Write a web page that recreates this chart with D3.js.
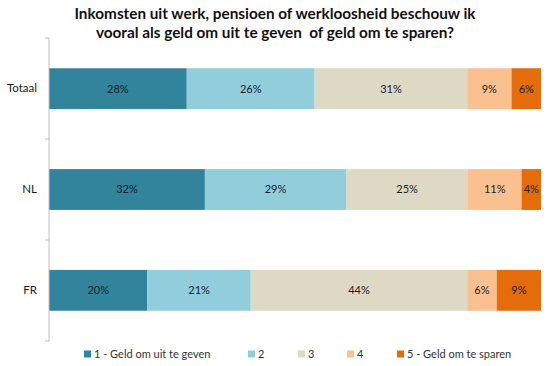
<!DOCTYPE html>
<html>
<head>
<meta charset="utf-8">
<script src="https://cdn.jsdelivr.net/npm/d3@7"></script>
<style>
  body { margin: 0; background: #fff; }
  svg { font-family: Lato, "Open Sans", sans-serif; }
</style>
</head>
<body>
<svg id="chart" width="550" height="366"></svg>
<script>
// categories and answer scale
groups = ["Totaal", "NL", "FR"];
answers = ["1 - Geld om uit te geven", "2", "3", "4", "5 - Geld om te sparen"];
colors = ["#31849B", "#92CDDC", "#DDD9C4", "#FAC090", "#E46C0A"];

// percentages per group, in answer order
totaal = [28, 26, 31, 9, 6];
nl = [32, 29, 25, 11, 4];
fr = [20, 21, 44, 6, 9];

titleLines = [
    "Inkomsten uit werk, pensioen of werkloosheid beschouw ik",
    "vooral als geld om uit te geven  of geld om te sparen?"
];

rows = [totaal, nl, fr].map((vals, i) => {
    let row = {group: groups[i]};
    answers.forEach((a, j) => row[a] = vals[j]);
    return row;
});

svg = d3.select("#chart");
const plotLeft = 49;
const plotRight = 541;
const plotTop = 38;
const plotBottom = 341;

x = d3.scaleLinear().domain([0, 1]).range([plotLeft, plotRight]);
y = d3.scaleBand().domain(groups).range([plotTop, plotBottom]).paddingInner(0.595).paddingOuter(0.3);

// stack with expand offset: each row fills the full width
series = d3.stack().keys(answers).offset(d3.stackOffsetExpand)(rows);

svg.selectAll("text.title")
    .data(titleLines)
    .enter().append("text")
    .attr("class", "title")
    .attr("x", 275)
    .attr("y", (d, i) => 19 + i * 19)
    .attr("text-anchor", "middle")
    .attr("font-size", 15.3)
    .attr("font-weight", "bold")
    .attr("fill", "#111")
    .style("white-space", "pre")
    .text(d => d);

layers = svg.selectAll("g.layer")
    .data(series)
    .enter().append("g")
    .attr("class", "layer")
    .attr("fill", (d, i) => colors[i]);

layers.selectAll("rect")
    .data(d => d)
    .enter().append("rect")
    .attr("x", d => x(d[0]))
    .attr("width", d => x(d[1]) - x(d[0]))
    .attr("y", d => y(d.data.group))
    .attr("height", y.bandwidth());

layers.each(function(s) {
    d3.select(this).selectAll("text")
        .data(s)
        .enter().append("text")
        .attr("x", d => (x(d[0]) + x(d[1])) / 2)
        .attr("y", d => y(d.data.group) + y.bandwidth() / 2)
        .attr("dy", "0.35em")
        .attr("text-anchor", "middle")
        .attr("font-size", 11)
        .attr("fill", "#16222a")
        .text(d => d.data[s.key] + "%");
});

// vertical category axis
yAxis = d3.axisLeft(y).tickSize(0).tickPadding(12);
gy = svg.append("g").attr("transform", `translate(${plotLeft},0)`).call(yAxis);
gy.select(".domain").attr("stroke", "#bfbfbf").attr("d", `M0,${plotTop}V${plotBottom}`);
gy.selectAll(".tick text").attr("font-size", 11.5).attr("fill", "#1a1a1a").attr("font-family", "Lato, sans-serif");

// small separator ticks between categories
seps = d3.range(groups.length + 1).map(i => plotTop + i * (plotBottom - plotTop) / groups.length);
svg.selectAll("line.sep")
    .data(seps)
    .enter().append("line")
    .attr("class", "sep")
    .attr("x1", plotLeft - 4).attr("x2", plotLeft)
    .attr("y1", d => d).attr("y2", d => d)
    .attr("stroke", "#bfbfbf");

// legend
legendX = [84, 248, 298, 347, 397];
legend = svg.selectAll("g.legend")
    .data(answers)
    .enter().append("g")
    .attr("class", "legend")
    .attr("transform", (d, i) => `translate(${legendX[i]},354)`);
legend.append("rect")
    .attr("x", 0).attr("y", -3.5)
    .attr("width", 7).attr("height", 7)
    .attr("fill", (d, i) => colors[i]);
legend.append("text")
    .attr("x", 10)
    .attr("dy", "0.35em")
    .attr("font-size", 11)
    .attr("fill", "#333")
    .text(d => d);
</script>
</body>
</html>
